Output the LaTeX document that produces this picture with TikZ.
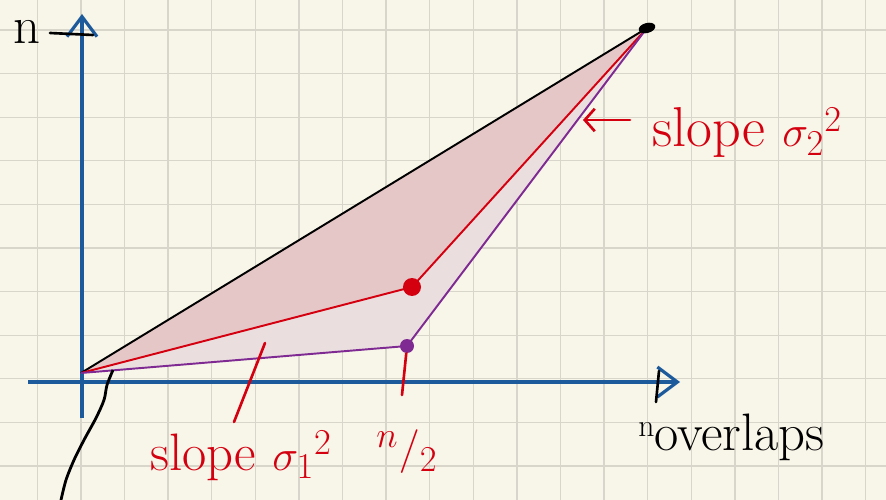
\documentclass[tikz,border=0pt]{standalone}
\usepackage{tikz}
\usepackage{xcolor}
\definecolor{paperBg}{HTML}{F8F5E9}
\definecolor{paperGrid}{HTML}{D8D5CA}
\definecolor{penBlue}{HTML}{1C5A9C}
\definecolor{penRed}{HTML}{D4000F}
\definecolor{penPurple}{HTML}{7E2A92}
\definecolor{fillOuter}{HTML}{E6C7C8}
\definecolor{fillInner}{HTML}{EBDEDF}
\usetikzlibrary{arrows.meta, shapes.geometric}
\tikzset{
  axisline/.style={penBlue, line width=1.8pt, -{Straight Barb[length=4mm, width=6mm]}},
  edgeline/.style={line width=1.1pt},
  penstroke/.style={line width=1.5pt, line cap=round},
  dotnode/.style={circle, inner sep=0pt, minimum size=#1},
  handtext/.style={inner sep=0pt, font=\fontsize{30}{36}\selectfont},
}

\begin{document}
\begin{tikzpicture}[x=0.02cm, y=-0.02cm]
  \useasboundingbox (0,0) rectangle (886,500);
  \fill[paperBg] (0,0) rectangle (886,500);
  \foreach \k in {0,...,19}
    \draw[paperGrid, line width=0.7pt] ({37.3+43.6*\k},0) -- ({37.3+43.6*\k},500);
  \foreach \k in {0,...,10}
    \draw[paperGrid, line width=0.7pt] (0,{30+43.6*\k}) -- (886,{30+43.6*\k});

  \coordinate (origin) at (81,373);
  \coordinate (top) at (647,28);
  \coordinate (mid) at (412,287);
  \coordinate (low) at (407,346);

  % shaded regions
  \fill[fillInner] (origin) -- (low) -- (top) -- (mid) -- cycle;
  \fill[fillOuter] (origin) -- (mid) -- (top) -- cycle;

  % axes
  \coordinate (xstart) at (28,382);
  \coordinate (xend) at (680,382);
  \coordinate (ystart) at (82,418);
  \coordinate (yend) at (82,14);
  \draw[axisline] (xstart) -- (xend);
  \draw[axisline] (ystart) -- (yend);

  % the three paths
  \draw[black, edgeline] (origin) -- (top);
  \draw[penRed, edgeline] (origin) -- (mid) -- (top);
  \draw[penPurple, edgeline] (origin) -- (low) -- (top);
  \node[dotnode=3.6mm, fill=penRed] (midDot) at (mid) {};
  \node[dotnode=2.8mm, fill=penPurple] (lowDot) at (low) {};
  \node[ellipse, fill=black, inner sep=0pt, minimum width=3.4mm, minimum height=2mm, rotate=15] (topDot) at (top) {};

  % labels
  \node[handtext, anchor=base west] (nLabel) at (13,44) {n};
  \node[handtext, penRed, anchor=base west, font=\fontsize{32}{38}\selectfont] (slopeTop) at (652,147) {slope $\sigma_2{}^{2}$};
  \node[handtext, penRed, anchor=base west] (slopeBottom) at (150,470) {slope $\sigma_1{}^{2}$};
  \node[handtext, penRed] (half) at (407,452) {$^{n}/_{2}$};
  \node[handtext, anchor=base west] (xLabel) at (638,450) {\raisebox{0.6ex}{\fontsize{18}{20}\selectfont n}overlaps};

  % ticks and pointers
  \coordinate (ytickA) at (50,33);
  \coordinate (ytickB) at (93,35);
  \draw[black, penstroke] (ytickA) -- (ytickB);
  \coordinate (xtickA) at (659,371);
  \coordinate (xtickB) at (656,402);
  \draw[black, penstroke] (xtickA) -- (xtickB);
  \coordinate (halfTick) at (402,395);
  \draw[penRed, penstroke] (lowDot) -- (halfTick);
  \coordinate (slopeTip) at (265,343);
  \coordinate (slopeFoot) at (234,422);
  \draw[penRed, penstroke] (slopeTip) -- (slopeFoot);
  \coordinate (arrowTail) at (630,120);
  \coordinate (arrowHead) at (583,120);
  \draw[penRed, penstroke, -{Straight Barb[length=2mm, width=4.5mm]}] (arrowTail) -- (arrowHead);
  \draw[black, line width=1.6pt] plot[smooth] coordinates {(113,370) (107,385) (104,400) (96,418) (84,440) (74,460) (66,480) (61,500)};
\end{tikzpicture}
\end{document}
